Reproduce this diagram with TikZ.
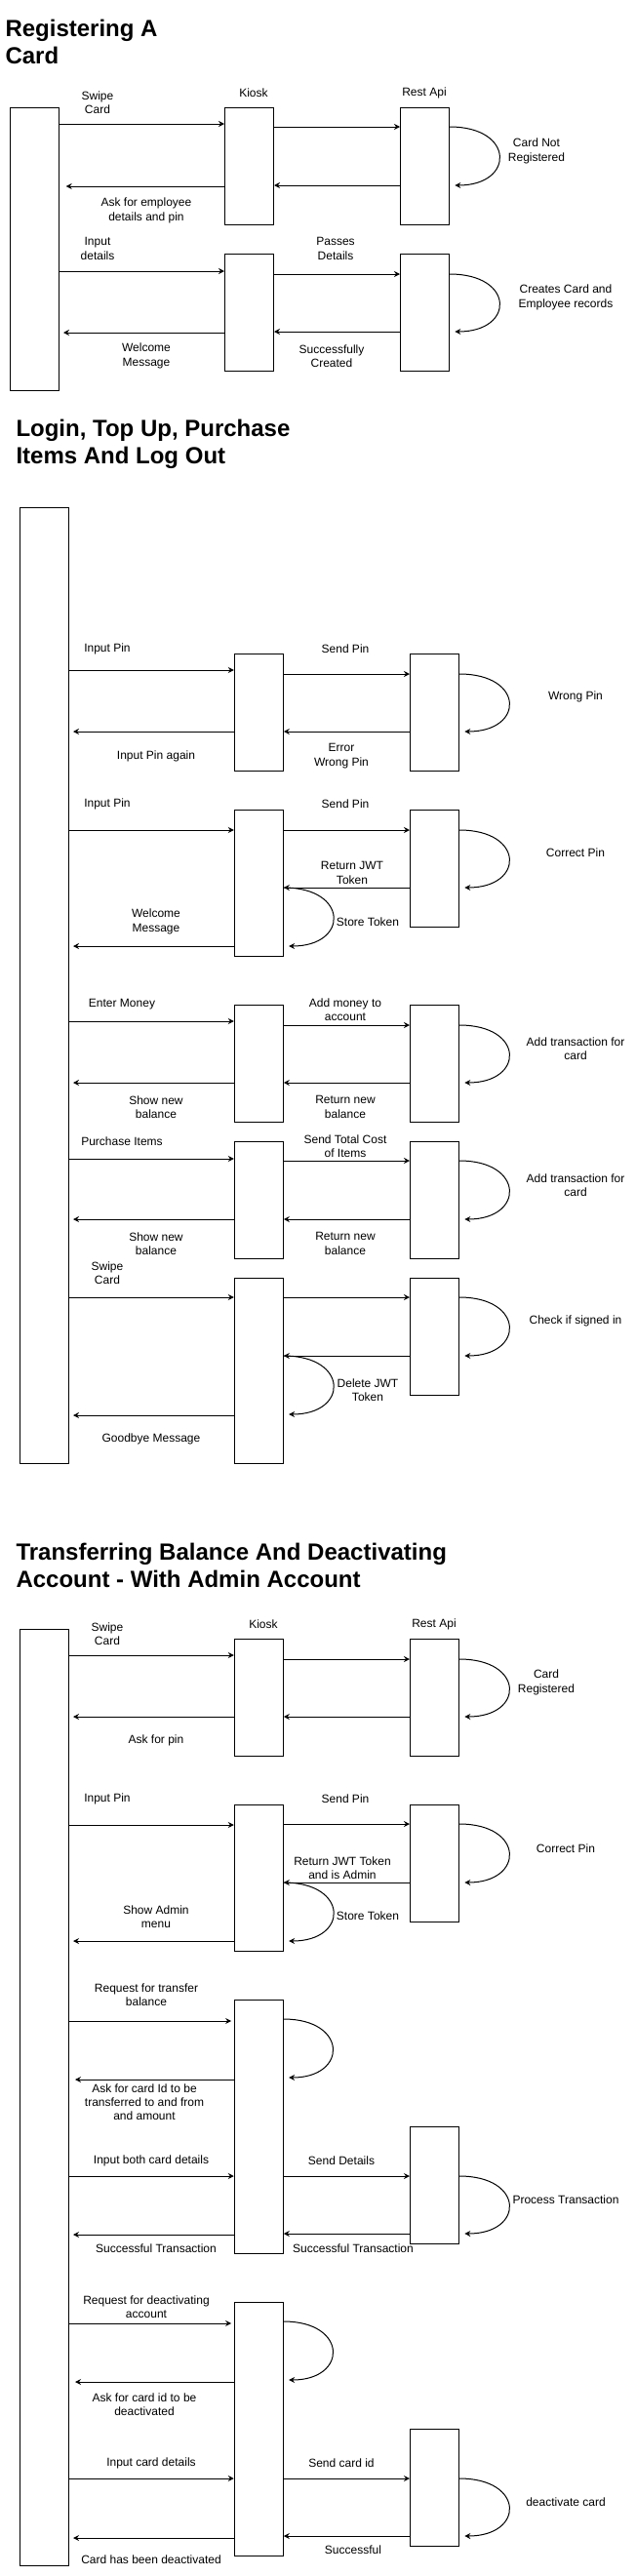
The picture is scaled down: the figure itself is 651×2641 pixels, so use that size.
\documentclass[tikz,border=0pt]{standalone}
\usepackage{fontspec}
\setmainfont{Liberation Sans}
\usetikzlibrary{arrows.meta}
\begin{document}
\begin{tikzpicture}[x=0.75pt, y=-0.75pt, line width=0.75pt,
    box/.style = {draw, minimum width=37.5pt, inner sep=0},
    lbl/.style = {align=center, inner sep=0, font=\fontsize{9pt}{10.7pt}\selectfont},
    heading/.style = {anchor=west, align=left, inner sep=0, font=\fontsize{18pt}{21pt}\selectfont\bfseries},
    msg/.style = {-{Stealth[length=4.5pt, width=4.5pt, inset=1.5pt]}},
    reply/.style = {msg, shorten >=3pt},
    self/.style = {msg, shorten >=4pt}]
\useasboundingbox (0,0) rectangle (651,2641);

% registering a card
\node[heading] (title1) at (5,43) {Registering A\\Card};
\node[box, minimum height=217.5pt] (user1) at (35.5,255) {};
\node[box, minimum height=90pt] (kiosk1a) at (255.5,170) {};
\node[box, minimum height=90pt] (rest1a) at (435.5,170) {};
\node[box, minimum height=90pt] (kiosk1b) at (255.5,320) {};
\node[box, minimum height=90pt] (rest1b) at (435.5,320) {};
\node[lbl] (kiosklbl1) at (260,95) {Kiosk};
\node[lbl] (restlbl1) at (435,95) {Rest Api};
\node[lbl] (swipe1) at (100,105) {Swipe\\Card};
\node[lbl] (notreg) at (550,155) {Card Not\\Registered};
\node[lbl] (askemp) at (150,216) {Ask for employee\\details and pin};
\node[lbl] (inputdet) at (100,255) {Input\\details};
\node[lbl] (passes) at (344,255) {Passes\\Details};
\node[lbl] (creates) at (580,305) {Creates Card and\\Employee records};
\node[lbl] (welcome1) at (150,365) {Welcome\\Message};
\node[lbl] (success1) at (340,365) {Successfully\\Created};
\draw[msg] (user1.east |- 0,127) -- (kiosk1a.west |- 0,127);
\draw[msg] (kiosk1a.east |- 0,130) -- (rest1a.west |- 0,130);
\draw[self] (rest1a.east |- 0,130) .. controls +(67,0) and +(67,0) .. (rest1a.east |- 0,190);
\draw[msg] (rest1a.west |- 0,190) -- (kiosk1a.east |- 0,190);
\draw[msg, shorten >=5pt] (kiosk1a.west |- 0,191) -- (user1.east |- 0,191);
\draw[msg] (user1.east |- 0,278) -- (kiosk1b.west |- 0,278);
\draw[msg] (kiosk1b.east |- 0,281) -- (rest1b.west |- 0,281);
\draw[self] (rest1b.east |- 0,281) .. controls +(67,0) and +(67,0) .. (rest1b.east |- 0,340);
\draw[msg] (rest1b.west |- 0,340) -- (kiosk1b.east |- 0,340);
\draw[msg, shorten >=3pt] (kiosk1b.west |- 0,341) -- (user1.east |- 0,341);

% login, top up, purchase, log out
\node[heading] (title2) at (16,455) {Login, Top Up, Purchase\\Items And Log Out};
\node[box, minimum height=735pt] (user2) at (45.5,1010) {};
\node[box, minimum height=90pt] (kioskA) at (265.3,730) {};
\node[box, minimum height=90pt] (restA) at (445.5,730) {};
\node[box, minimum height=112.5pt] (kioskB) at (265.3,905) {};
\node[box, minimum height=90pt] (restB) at (445.5,890) {};
\node[box, minimum height=90pt] (kioskC) at (265.3,1090) {};
\node[box, minimum height=90pt] (restC) at (445.5,1090) {};
\node[box, minimum height=90pt] (kioskD) at (265.3,1230) {};
\node[box, minimum height=90pt] (restD) at (445.5,1230) {};
\node[box, minimum height=142.5pt] (kioskE) at (265.3,1405) {};
\node[box, minimum height=90pt] (restE) at (445.5,1370) {};
\node[lbl] (inpinA) at (110,665) {Input Pin};
\node[lbl] (sendpinA) at (354,665) {Send Pin};
\node[lbl] (wrongpin) at (590,714) {Wrong Pin};
\node[lbl] (pinagain) at (160,775) {Input Pin again};
\node[lbl] (errpin) at (350,775) {Error\\Wrong Pin};
\node[lbl] (inpinB) at (110,824) {Input Pin};
\node[lbl] (sendpinB) at (354,824) {Send Pin};
\node[lbl] (correctB) at (590,874) {Correct Pin};
\node[lbl] (retjwt) at (361,895) {Return JWT\\Token};
\node[lbl] (storeB) at (377,945) {Store Token};
\node[lbl] (welcome2) at (160,945) {Welcome\\Message};
\node[lbl] (entermoney) at (125,1030) {Enter Money};
\node[lbl] (addmoney) at (354,1035) {Add money to\\account};
\node[lbl] (addtxC) at (590,1075) {Add transaction for\\card};
\node[lbl] (shownewC) at (160,1135) {Show new\\balance};
\node[lbl] (retnewC) at (354,1135) {Return new\\balance};
\node[lbl] (purchase) at (125,1170) {Purchase Items};
\node[lbl] (sendcost) at (354,1175) {Send Total Cost\\of Items};
\node[lbl] (addtxD) at (590,1215) {Add transaction for\\card};
\node[lbl] (shownewD) at (160,1275) {Show new\\balance};
\node[lbl] (retnewD) at (354,1275) {Return new\\balance};
\node[lbl] (swipe2) at (110,1305) {Swipe\\Card};
\node[lbl] (checksign) at (590,1354) {Check if signed in};
\node[lbl] (deljwt) at (377,1425) {Delete JWT\\Token};
\node[lbl] (goodbye) at (155,1475) {Goodbye Message};
\draw[msg] (user2.east |- 0,687) -- (kioskA.west |- 0,687);
\draw[msg] (kioskA.east |- 0,691) -- (restA.west |- 0,691);
\draw[self] (restA.east |- 0,691) .. controls +(67,0) and +(67,0) .. (restA.east |- 0,750);
\draw[msg] (restA.west |- 0,750) -- (kioskA.east |- 0,750);
\draw[reply] (kioskA.west |- 0,750) -- (user2.east |- 0,750);
\draw[msg] (user2.east |- 0,851) -- (kioskB.west |- 0,851);
\draw[msg] (kioskB.east |- 0,851) -- (restB.west |- 0,851);
\draw[self] (restB.east |- 0,851) .. controls +(67,0) and +(67,0) .. (restB.east |- 0,910);
\draw[msg] (restB.west |- 0,910) -- (kioskB.east |- 0,910);
\draw[self] (kioskB.east |- 0,910) .. controls +(67,0) and +(67,0) .. (kioskB.east |- 0,970);
\draw[reply] (kioskB.west |- 0,970) -- (user2.east |- 0,970);
\draw[msg] (user2.east |- 0,1047) -- (kioskC.west |- 0,1047);
\draw[msg] (kioskC.east |- 0,1051) -- (restC.west |- 0,1051);
\draw[self] (restC.east |- 0,1051) .. controls +(67,0) and +(67,0) .. (restC.east |- 0,1110);
\draw[msg] (restC.west |- 0,1110) -- (kioskC.east |- 0,1110);
\draw[reply] (kioskC.west |- 0,1110) -- (user2.east |- 0,1110);
\draw[msg] (user2.east |- 0,1188) -- (kioskD.west |- 0,1188);
\draw[msg] (kioskD.east |- 0,1190) -- (restD.west |- 0,1190);
\draw[self] (restD.east |- 0,1190) .. controls +(67,0) and +(67,0) .. (restD.east |- 0,1250);
\draw[msg] (restD.west |- 0,1250) -- (kioskD.east |- 0,1250);
\draw[reply] (kioskD.west |- 0,1250) -- (user2.east |- 0,1250);
\draw[msg] (user2.east |- 0,1330) -- (kioskE.west |- 0,1330);
\draw[msg] (kioskE.east |- 0,1330) -- (restE.west |- 0,1330);
\draw[self] (restE.east |- 0,1330) .. controls +(67,0) and +(67,0) .. (restE.east |- 0,1390);
\draw[msg] (restE.west |- 0,1390) -- (kioskE.east |- 0,1390);
\draw[self] (kioskE.east |- 0,1390) .. controls +(67,0) and +(67,0) .. (kioskE.east |- 0,1450);
\draw[reply] (kioskE.west |- 0,1451) -- (user2.east |- 0,1451);

% transferring balance and deactivating account
\node[heading] (title3) at (16,1605) {Transferring Balance And Deactivating\\Account - With Admin Account};
\node[box, minimum height=720pt] (user3) at (45.5,2150) {};
\node[box, minimum height=90pt] (kioskF) at (265.3,1740) {};
\node[box, minimum height=90pt] (restF) at (445.5,1740) {};
\node[box, minimum height=112.5pt] (kioskG) at (265.3,1925) {};
\node[box, minimum height=90pt] (restG) at (445.5,1910) {};
\node[box, minimum height=195pt] (kioskH) at (265.3,2180) {};
\node[box, minimum height=90pt] (restH) at (445.5,2240) {};
\node[box, minimum height=195pt] (kioskI) at (265.3,2490) {};
\node[box, minimum height=90pt] (restI) at (445.5,2550) {};
\node[lbl] (swipe3) at (110,1675) {Swipe\\Card};
\node[lbl] (kiosklbl3) at (270,1665) {Kiosk};
\node[lbl] (restlbl3) at (445,1665) {Rest Api};
\node[lbl] (cardreg) at (560,1725) {Card\\Registered};
\node[lbl] (askpin) at (160,1784) {Ask for pin};
\node[lbl] (inpinG) at (110,1844) {Input Pin};
\node[lbl] (sendpinG) at (354,1844) {Send Pin};
\node[lbl] (correctG) at (580,1895) {Correct Pin};
\node[lbl] (retadmin) at (351,1915) {Return JWT Token\\and is Admin};
\node[lbl] (storeG) at (377,1964) {Store Token};
\node[lbl] (showadmin) at (160,1965) {Show Admin\\menu};
\node[lbl] (reqtransfer) at (150,2045) {Request for transfer\\balance};
\node[lbl] (askcard) at (148,2155) {Ask for card Id to be\\transferred to and from\\and amount};
\node[lbl] (inboth) at (155,2215) {Input both card details};
\node[lbl] (senddet) at (350,2215) {Send Details};
\node[lbl] (processtx) at (580,2255) {Process Transaction};
\node[lbl] (succtxL) at (160,2305) {Successful Transaction};
\node[lbl] (succtxR) at (362,2305) {Successful Transaction};
\node[lbl] (reqdeact) at (150,2365) {Request for deactivating\\account};
\node[lbl] (askdeact) at (148,2465) {Ask for card id to be\\deactivated};
\node[lbl] (incard) at (155,2525) {Input card details};
\node[lbl] (sendid) at (350,2525) {Send card id};
\node[lbl] (deactcard) at (580,2565) {deactivate card};
\node[lbl] (successful) at (362,2614) {Successful};
\node[lbl] (deactdone) at (155,2624) {Card has been deactivated};
\draw[msg] (user3.east |- 0,1697) -- (kioskF.west |- 0,1697);
\draw[msg] (kioskF.east |- 0,1701) -- (restF.west |- 0,1701);
\draw[self] (restF.east |- 0,1701) .. controls +(67,0) and +(67,0) .. (restF.east |- 0,1760);
\draw[msg] (restF.west |- 0,1760) -- (kioskF.east |- 0,1760);
\draw[reply] (kioskF.west |- 0,1760) -- (user3.east |- 0,1760);
\draw[msg] (user3.east |- 0,1871) -- (kioskG.west |- 0,1871);
\draw[msg] (kioskG.east |- 0,1870) -- (restG.west |- 0,1870);
\draw[self] (restG.east |- 0,1870) .. controls +(67,0) and +(67,0) .. (restG.east |- 0,1930);
\draw[msg] (restG.west |- 0,1930) -- (kioskG.east |- 0,1930);
\draw[self] (kioskG.east |- 0,1930) .. controls +(67,0) and +(67,0) .. (kioskG.east |- 0,1990);
\draw[reply] (kioskG.west |- 0,1990) -- (user3.east |- 0,1990);
\draw[msg, shorten >=2pt] (user3.east |- 0,2072) -- (kioskH.west |- 0,2072);
\draw[self] (kioskH.east |- 0,2070) .. controls +(66,0) and +(66,0) .. (kioskH.east |- 0,2130);
\draw[msg, shorten >=4.5pt] (kioskH.west |- 0,2132) -- (user3.east |- 0,2132);
\draw[msg] (user3.east |- 0,2231) -- (kioskH.west |- 0,2231);
\draw[msg] (kioskH.east |- 0,2231) -- (restH.west |- 0,2231);
\draw[self] (restH.east |- 0,2231) .. controls +(67,0) and +(67,0) .. (restH.east |- 0,2290);
\draw[msg] (restH.west |- 0,2290) -- (kioskH.east |- 0,2290);
\draw[reply] (kioskH.west |- 0,2291) -- (user3.east |- 0,2291);
\draw[msg, shorten >=2pt] (user3.east |- 0,2382) -- (kioskI.west |- 0,2382);
\draw[self] (kioskI.east |- 0,2380) .. controls +(66,0) and +(66,0) .. (kioskI.east |- 0,2440);
\draw[msg, shorten >=4.5pt] (kioskI.west |- 0,2442) -- (user3.east |- 0,2442);
\draw[msg] (user3.east |- 0,2541) -- (kioskI.west |- 0,2541);
\draw[msg] (kioskI.east |- 0,2541) -- (restI.west |- 0,2541);
\draw[self] (restI.east |- 0,2541) .. controls +(67,0) and +(67,0) .. (restI.east |- 0,2600);
\draw[msg] (restI.west |- 0,2600) -- (kioskI.east |- 0,2600);
\draw[reply] (kioskI.west |- 0,2602) -- (user3.east |- 0,2602);
\end{tikzpicture}
\end{document}
